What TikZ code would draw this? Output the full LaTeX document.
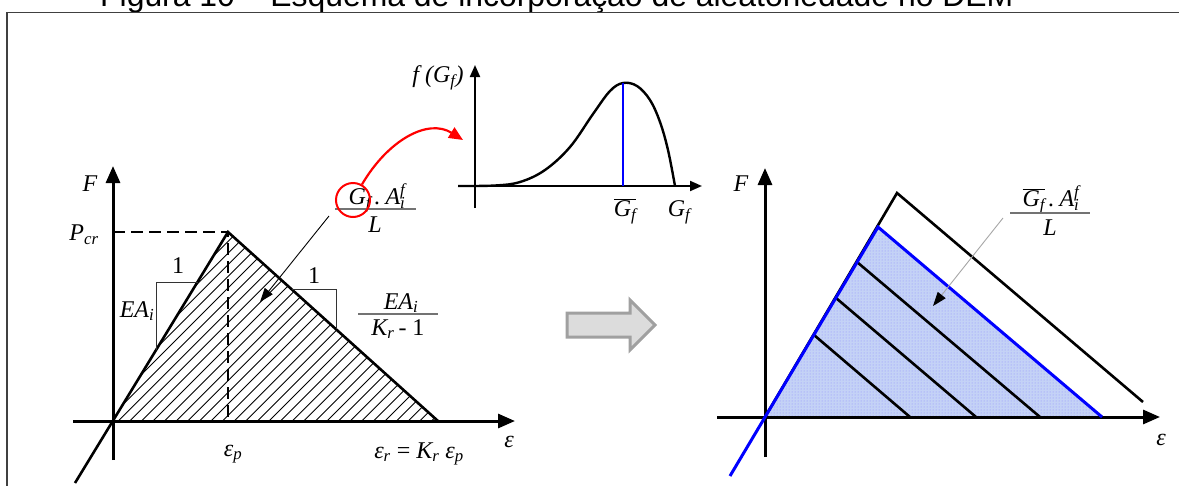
\documentclass[tikz,border=0pt]{standalone}
\usepackage{fontspec}
\setmainfont{Liberation Serif}
\newfontfamily\titlefont{Liberation Sans}
\usetikzlibrary{arrows.meta,patterns}
\newcommand{\sbs}[1]{\textsubscript{\itshape #1}}
\newcommand{\sps}[1]{\textsuperscript{\itshape #1}}
\definecolor{bluefill}{RGB}{196,210,246}
\definecolor{arrowgray}{RGB}{160,160,160}
\definecolor{arrowfill}{RGB}{220,220,220}
\begin{document}
\begin{tikzpicture}[x=1pt,y=-1pt,
  lbl/.style={font=\fontsize{24}{27}\selectfont\itshape, inner sep=0pt},
  axisline/.style={line width=3pt,-{Triangle[length=17pt,width=14pt]}},
  smallaxis/.style={line width=2pt,-{Triangle[length=12pt,width=10pt]}},
  curveline/.style={line width=2.6pt,line join=miter},
  thinline/.style={line width=1pt,black!80},
  fracline/.style={line width=1.4pt,black!55},
  dashline/.style={line width=1.2pt,dash pattern=on 12pt off 6pt},
  pointer/.style={line width=0.9pt,-{Triangle[length=14pt,width=10pt,color=black]}},
]
\useasboundingbox (0,0) rectangle (1179,485);
\clip (0,0) rectangle (1179,485);

% title (cut off at the top) and frame
\node[anchor=base west,inner sep=0pt,font=\titlefont\fontsize{31.9}{36}\selectfont] (title) at (100,6)
  {Figura 10 – Esquema de incorporação de aleatoriedade no DEM};
\draw[line width=1.6pt,black!75] (7,12.5) rectangle (1210,520);

% ---------------- left plot ----------------
\coordinate (O) at (113,421);
\coordinate (P) at (228,232);
\coordinate (R) at (438,421);
\begin{scope}
  \clip (O) -- (P) -- (R) -- cycle;
  \foreach \c in {458,469.6,...,870} \draw[line width=0.9pt] (\c,0) -- ++(-500,500);
\end{scope}
\draw[dashline] (113,232) -- (P) -- (228,421);
\draw[axisline] (73,421) -- (515,421);
\draw[axisline] (113,460) -- (113,166);
\draw[curveline] (75,483) -- (P) -- (R);
\draw[thinline] (197.6,282) -- (156,282) -- (156,350);
\draw[thinline] (291.7,289) -- (336,289) -- (336,328.7);

\node[lbl] (F1) at (90,184) {F};
\node[lbl] (Pcr) at (84,235) {P\sbs{cr}};
\node[lbl,font=\fontsize{24}{27}\selectfont] (one1) at (178,266) {1};
\node[lbl,font=\fontsize{24}{27}\selectfont] (one2) at (314,276) {1};
\node[lbl] (EA1) at (137,311) {EA\sbs{i}};
\node[lbl] (EAn) at (401,303) {EA\sbs{i}};
\draw[fracline] (358,314) -- (438,314);
\node[lbl] (EAd) at (398,329) {K\sbs{r}\,{\upshape - 1}};
\node[lbl] (epsp) at (233,454) {ε\sbs{p}};
\node[lbl] (epsr) at (419,454) {ε\sbs{r} {\upshape =} K\sbs{r} ε\sbs{p}};
\node[lbl] (eps1) at (509,442) {ε};

% fraction G_f A_i^f / L with red circle
\node[lbl] (Gn) at (377,198) {G\sbs{f}\kern0.15em.\kern0.2em A\rlap{\sbs{i}}\sps{f}\hspace{0.3em}};
\draw[fracline] (335,209) -- (416,209);
\node[lbl] (Ld) at (375,225) {L};
\node[draw=red,line width=2pt,circle,minimum size=34pt,inner sep=0pt] (circ) at (353,200) {};
\coordinate (pt1) at (329,216);
\coordinate (pt1e) at (260,302);
\draw[pointer] (pt1) -- (pt1e);

% red curved arrow to the distribution
\coordinate (dtarget) at (463,140);
\draw[red,line width=2.2pt,-{Triangle[length=14pt,width=12pt]}]
  (circ.60) .. controls (388,140) and (428,118) .. (dtarget);

% ---------------- distribution ----------------
\draw[smallaxis] (475,208) -- (475,65);
\draw[smallaxis] (458,186) -- (702,186);
\draw[line width=2.4pt] plot[smooth,tension=0.6] coordinates
  {(458,186) (495,185.5) (520,182) (545,170) (570,147) (593,114) (610,91) (623,83) (637,86) (650,100) (660,122) (668,150) (675,186)};
\draw[blue,line width=1.6pt] (623,83) -- (623,186);
\node[lbl] (fG) at (438,78) {f\kern0.25em(G\sbs{f})};
\node[lbl] (Gbar) at (625,211) {$\overline{\hbox{\itshape G\sbs{f}}}$};
\node[lbl] (Gf) at (679,212) {G\sbs{f}};

% ---------------- big gray arrow ----------------
\draw[fill=arrowfill,draw=arrowgray,line width=3pt,line join=miter]
  (567,313) -- (630,313) -- (630,300) -- (655,325) -- (630,350) -- (630,337) -- (567,337) -- cycle;

% ---------------- right plot ----------------
\coordinate (O2) at (765,417);
\coordinate (B2) at (878,227);
\coordinate (E2) at (1102,417);
\coordinate (K2) at (897,193);
\fill[bluefill] (O2) -- (B2) -- (E2) -- cycle;
\fill[pattern=dots,pattern color=blue!45] (O2) -- (B2) -- (E2) -- cycle;
\draw[curveline] (857,262) -- (1040,417);
\draw[curveline] (836,298) -- (976,417);
\draw[curveline] (814,335) -- (910,417);
\draw[axisline] (717,417) -- (1160,417);
\draw[axisline] (765,457) -- (765,168);
\draw[curveline] (O2) -- (K2) -- (1143,402);
\draw[blue,line width=3pt,line join=miter] (730,476) -- (B2) -- (E2);
\node[lbl] (F2) at (741,184) {F};
\node[lbl] (eps2) at (1161,440) {ε};
\node[lbl] (Gn2) at (1051,200) {$\overline{\hbox{\itshape G\sbs{f}}}$\kern0.15em.\kern0.2em A\rlap{\sbs{i}}\sps{f}\hspace{0.3em}};
\draw[fracline] (1010,213) -- (1090,213);
\node[lbl] (Ld2) at (1050,228) {L};
\coordinate (pt2) at (1003,218);
\coordinate (pt2e) at (933,306);
\draw[pointer,black!35] (pt2) -- (pt2e);
\end{tikzpicture}
\end{document}
